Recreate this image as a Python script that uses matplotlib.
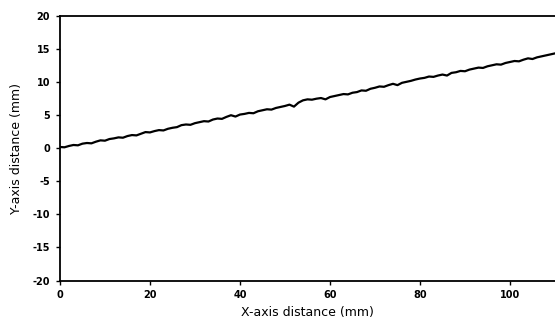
import matplotlib
matplotlib.use("Agg")
import matplotlib.pyplot as plt

x_mm = list(range(0, 111))
y_mm = [0.2, 0.15, 0.35, 0.5, 0.45, 0.7, 0.8, 0.75, 1.0, 1.2,
        1.15, 1.4, 1.5, 1.65, 1.6, 1.85, 2.0, 1.95, 2.2, 2.45,
        2.4, 2.6, 2.75, 2.7, 2.95, 3.1, 3.2, 3.5, 3.6, 3.55,
        3.8, 3.95, 4.1, 4.05, 4.35, 4.5, 4.45, 4.75, 5.0, 4.8,
        5.1, 5.2, 5.35, 5.3, 5.6, 5.75, 5.9, 5.85, 6.1, 6.25,
        6.4, 6.6, 6.3, 6.9, 7.25, 7.4, 7.35, 7.5, 7.6, 7.4,
        7.75, 7.9, 8.05, 8.2, 8.15, 8.4, 8.5, 8.75, 8.7, 9.0,
        9.15, 9.35, 9.3, 9.55, 9.75, 9.55, 9.9, 10.05, 10.2, 10.4,
        10.55, 10.65, 10.85, 10.8, 11.0, 11.15, 11.0, 11.4, 11.5, 11.7,
        11.65, 11.9, 12.05, 12.2, 12.15, 12.4, 12.55, 12.7, 12.65, 12.9,
        13.05, 13.2, 13.15, 13.4, 13.6, 13.5, 13.75, 13.9, 14.05, 14.2,
        14.35]

x_ticks = [0, 20, 40, 60, 80, 100]
y_ticks = [-20, -15, -10, -5, 0, 5, 10, 15, 20]

plt.rcParams['font.family'] = ['DejaVu Sans']
plt.rcParams['axes.unicode_minus'] = False

fig = plt.figure(figsize=(5.55, 3.27), dpi=100)
ax = fig.add_axes([0.108, 0.142, 0.892, 0.809])
ax.plot(x_mm, y_mm, color='black', linewidth=1.6)
ax.set_xlim(0, 110)
ax.set_ylim(-20, 20)
ax.set_xticks(x_ticks)
ax.set_yticks(y_ticks)
ax.tick_params(direction='out', length=3, width=1, labelsize=7, pad=4)
for lab in ax.get_xticklabels() + ax.get_yticklabels():
    lab.set_fontweight('bold')
for s in ['left', 'bottom', 'top']:
    ax.spines[s].set_linewidth(1.3)
ax.spines['right'].set_visible(False)
ax.set_xlabel('X-axis distance (mm)', fontsize=9, labelpad=4)
ax.set_ylabel('Y-axis distance (mm)', fontsize=9, labelpad=7)
fig.savefig('out.png', dpi=100)
